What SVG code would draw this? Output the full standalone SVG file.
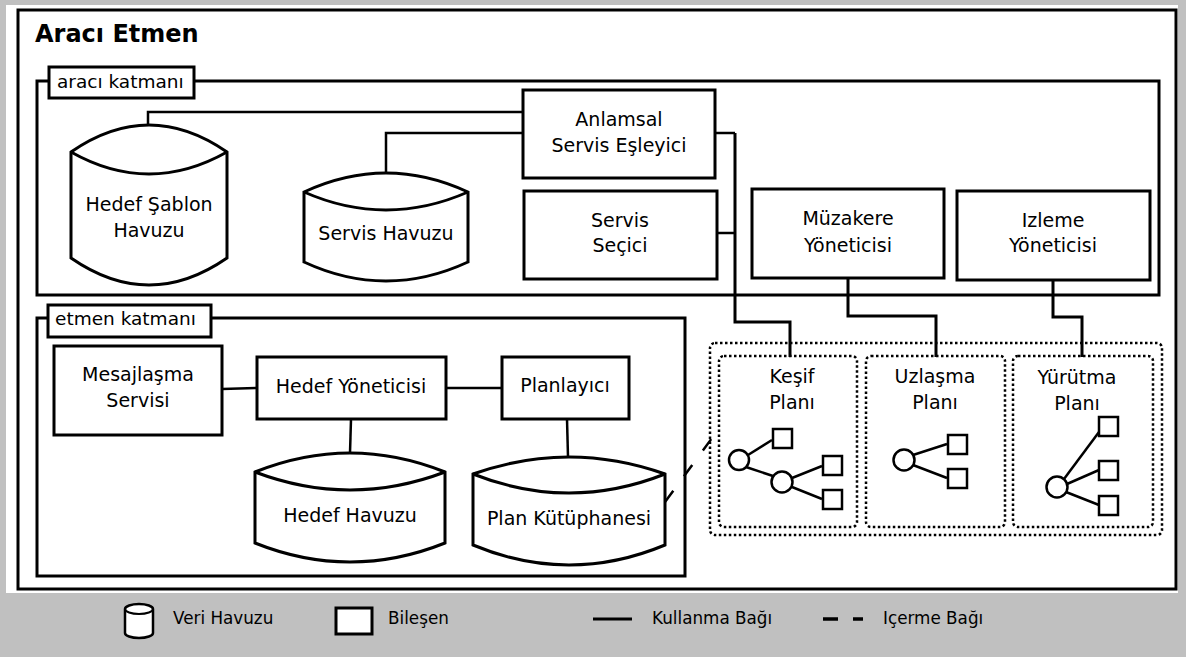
<svg xmlns="http://www.w3.org/2000/svg" width="1186" height="657" viewBox="0 0 1186 657">
<style>
text{font-family:"DejaVu Sans","Liberation Sans",sans-serif;fill:#000}
.lbl{font-size:19px;text-anchor:middle}
.tab{font-size:18.5px}
.leg{font-size:16.8px}
.box{fill:#fff;stroke:#000;stroke-width:3}
.frame{fill:none;stroke:#000;stroke-width:3}
.cyl{fill:#fff;stroke:#000;stroke-width:3;stroke-linejoin:miter}
.cylin{fill:none;stroke:#000;stroke-width:3}
.use{fill:none;stroke:#000;stroke-width:2.5}
.dot{fill:none;stroke:#000;stroke-width:2.5;stroke-dasharray:2.5 2.5}
.tree{fill:none;stroke:#000;stroke-width:2.5}
.sq{fill:#fff;stroke:#000;stroke-width:2.5}
</style>
<rect x="0" y="0" width="1186" height="657" fill="#c0c0c0"/>
<rect x="6" y="5" width="1172" height="588" fill="#fff"/>
<rect x="18" y="10" width="1158" height="579" class="frame"/>
<text x="35" y="42" style="font-size:24px;font-weight:bold">Aracı Etmen</text>

<g id="araci-katmani">
<rect x="37" y="81" width="1122" height="214" class="frame"/>
<rect x="49" y="67" width="145" height="31" class="box"/>
<text x="57" y="88" class="tab">aracı katmanı</text>
</g>
<g id="etmen-katmani">
<rect x="37" y="318" width="648" height="258" class="frame"/>
<rect x="48" y="305" width="163" height="32" class="box"/>
<text x="55" y="325" class="tab">etmen katmanı</text>
</g>

<g id="connectors">
<polyline class="use" points="148,125 148,112 523,112"/>
<polyline class="use" points="386,173 386,133 523,133"/>
<polyline class="use" points="715,133 735,133"/>
<polyline class="use" points="717,233 735,233"/>
<polyline class="use" style="stroke-width:3" points="735,133 735,322 790,322 790,357"/>
<polyline class="use" style="stroke-width:3" points="848,278 848,316 936,316 936,357"/>
<polyline class="use" style="stroke-width:3" points="1053,280 1053,317 1082,317 1082,357"/>
<line class="use" x1="222" y1="389" x2="257" y2="388"/>
<line class="use" x1="446" y1="388" x2="502" y2="388"/>
<line class="use" x1="351" y1="419" x2="350" y2="453"/>
<line class="use" x1="567" y1="419" x2="568" y2="457"/>
<line class="use" style="stroke-dasharray:14 18" x1="665" y1="502" x2="712" y2="438"/>
</g>

<g id="hedef-sablon-havuzu">
<path class="cyl" d="M71,152 Q149,98 227,152 L227,258 Q149,312 71,258 Z"/>
<path class="cylin" d="M71,152 Q149,196 227,152"/>
<text x="149" y="211" class="lbl">Hedef Şablon</text>
<text x="149" y="237" class="lbl">Havuzu</text>
</g>
<g id="servis-havuzu">
<path class="cyl" d="M304,192 Q386,154 468,192 L468,262 Q386,300 304,262 Z"/>
<path class="cylin" d="M304,192 Q386,228 468,192"/>
<text x="386" y="240" class="lbl">Servis Havuzu</text>
</g>
<g id="anlamsal-servis-esleyici">
<rect x="523" y="90" width="192" height="88" class="box"/>
<text x="619" y="126" class="lbl">Anlamsal</text>
<text x="619" y="152" class="lbl">Servis Eşleyici</text>
</g>
<g id="servis-secici">
<rect x="524" y="191" width="193" height="88" class="box"/>
<text x="620" y="227" class="lbl">Servis</text>
<text x="620" y="252" class="lbl">Seçici</text>
</g>
<g id="muzakere-yoneticisi">
<rect x="752" y="189" width="192" height="89" class="box"/>
<text x="848" y="225" class="lbl">Müzakere</text>
<text x="848" y="252" class="lbl">Yöneticisi</text>
</g>
<g id="izleme-yoneticisi">
<rect x="957" y="191" width="193" height="89" class="box"/>
<text x="1053" y="227" class="lbl">Izleme</text>
<text x="1053" y="252" class="lbl">Yöneticisi</text>
</g>

<g id="mesajlasma-servisi">
<rect x="54" y="346" width="168" height="89" class="box"/>
<text x="138" y="381" class="lbl">Mesajlaşma</text>
<text x="138" y="407" class="lbl">Servisi</text>
</g>
<g id="hedef-yoneticisi">
<rect x="257" y="357" width="189" height="62" class="box"/>
<text x="351" y="393" class="lbl">Hedef Yöneticisi</text>
</g>
<g id="planlayici">
<rect x="502" y="357" width="127" height="62" class="box"/>
<text x="565" y="392" class="lbl">Planlayıcı</text>
</g>
<g id="hedef-havuzu">
<path class="cyl" d="M255,472 Q350,434 445,472 L445,543 Q350,581 255,543 Z"/>
<path class="cylin" d="M255,472 Q350,508 445,472"/>
<text x="350" y="522" class="lbl">Hedef Havuzu</text>
</g>
<g id="plan-kutuphanesi">
<path class="cyl" d="M473,474 Q569,440 665,474 L665,545 Q569,585 473,545 Z"/>
<path class="cylin" d="M473,474 Q569,512 665,474"/>
<text x="569" y="525" class="lbl">Plan Kütüphanesi</text>
</g>

<g id="planlar">
<rect x="710" y="343" width="452" height="192" rx="5" class="dot"/>
</g>
<g id="kesif-plani">
<rect x="719" y="356" width="138" height="171" rx="5" class="dot"/>
<text x="792" y="383" class="lbl">Keşif</text>
<text x="792" y="409" class="lbl">Planı</text>
<line class="tree" x1="748" y1="455" x2="772" y2="440"/>
<line class="tree" x1="746" y1="467" x2="773" y2="476"/>
<line class="tree" x1="792" y1="478" x2="822" y2="466"/>
<line class="tree" x1="792" y1="487" x2="822" y2="499"/>
<circle class="sq" cx="739" cy="460" r="10"/>
<circle class="sq" cx="782" cy="482" r="10.5"/>
<rect class="sq" x="773" y="429" width="19" height="19"/>
<rect class="sq" x="823" y="456" width="19" height="19"/>
<rect class="sq" x="823" y="490" width="19" height="19"/>
</g>
<g id="uzlasma-plani">
<rect x="866" y="356" width="139" height="171" rx="5" class="dot"/>
<text x="935" y="383" class="lbl">Uzlaşma</text>
<text x="935" y="409" class="lbl">Planı</text>
<line class="tree" x1="913" y1="455" x2="947" y2="444"/>
<line class="tree" x1="913" y1="465" x2="947" y2="478"/>
<circle class="sq" cx="904" cy="460" r="10.5"/>
<rect class="sq" x="948" y="435" width="19" height="19"/>
<rect class="sq" x="948" y="469" width="19" height="19"/>
</g>
<g id="yurutma-plani">
<rect x="1013" y="356" width="140" height="171" rx="5" class="dot"/>
<text x="1077" y="384" class="lbl">Yürütma</text>
<text x="1077" y="410" class="lbl">Planı</text>
<line class="tree" x1="1064" y1="479" x2="1099" y2="432"/>
<line class="tree" x1="1067" y1="484" x2="1099" y2="470"/>
<line class="tree" x1="1066" y1="492" x2="1099" y2="505"/>
<circle class="sq" cx="1057" cy="487" r="10.5"/>
<rect class="sq" x="1099" y="417" width="19" height="19"/>
<rect class="sq" x="1099" y="461" width="19" height="19"/>
<rect class="sq" x="1099" y="496" width="19" height="19"/>
</g>

<g id="legend">
<path d="M125,609 a14,5 0 0 1 28,0 v24 a14,5 0 0 1 -28,0 z" fill="#fff" stroke="#000" stroke-width="2.5"/>
<path d="M125,609 a14,5 0 0 0 28,0" fill="none" stroke="#000" stroke-width="2"/>
<text x="173" y="624" class="leg">Veri Havuzu</text>
<rect x="336" y="608" width="36" height="26" fill="#fff" stroke="#000" stroke-width="3"/>
<text x="388" y="624" class="leg">Bileşen</text>
<line x1="593" y1="619" x2="632" y2="619" stroke="#000" stroke-width="3"/>
<text x="652" y="624" class="leg">Kullanma Bağı</text>
<line x1="823" y1="619" x2="838" y2="619" stroke="#000" stroke-width="3.5"/>
<line x1="853" y1="619" x2="863" y2="619" stroke="#000" stroke-width="3.5"/>
<text x="883" y="624" class="leg">Içerme Bağı</text>
</g>
</svg>
